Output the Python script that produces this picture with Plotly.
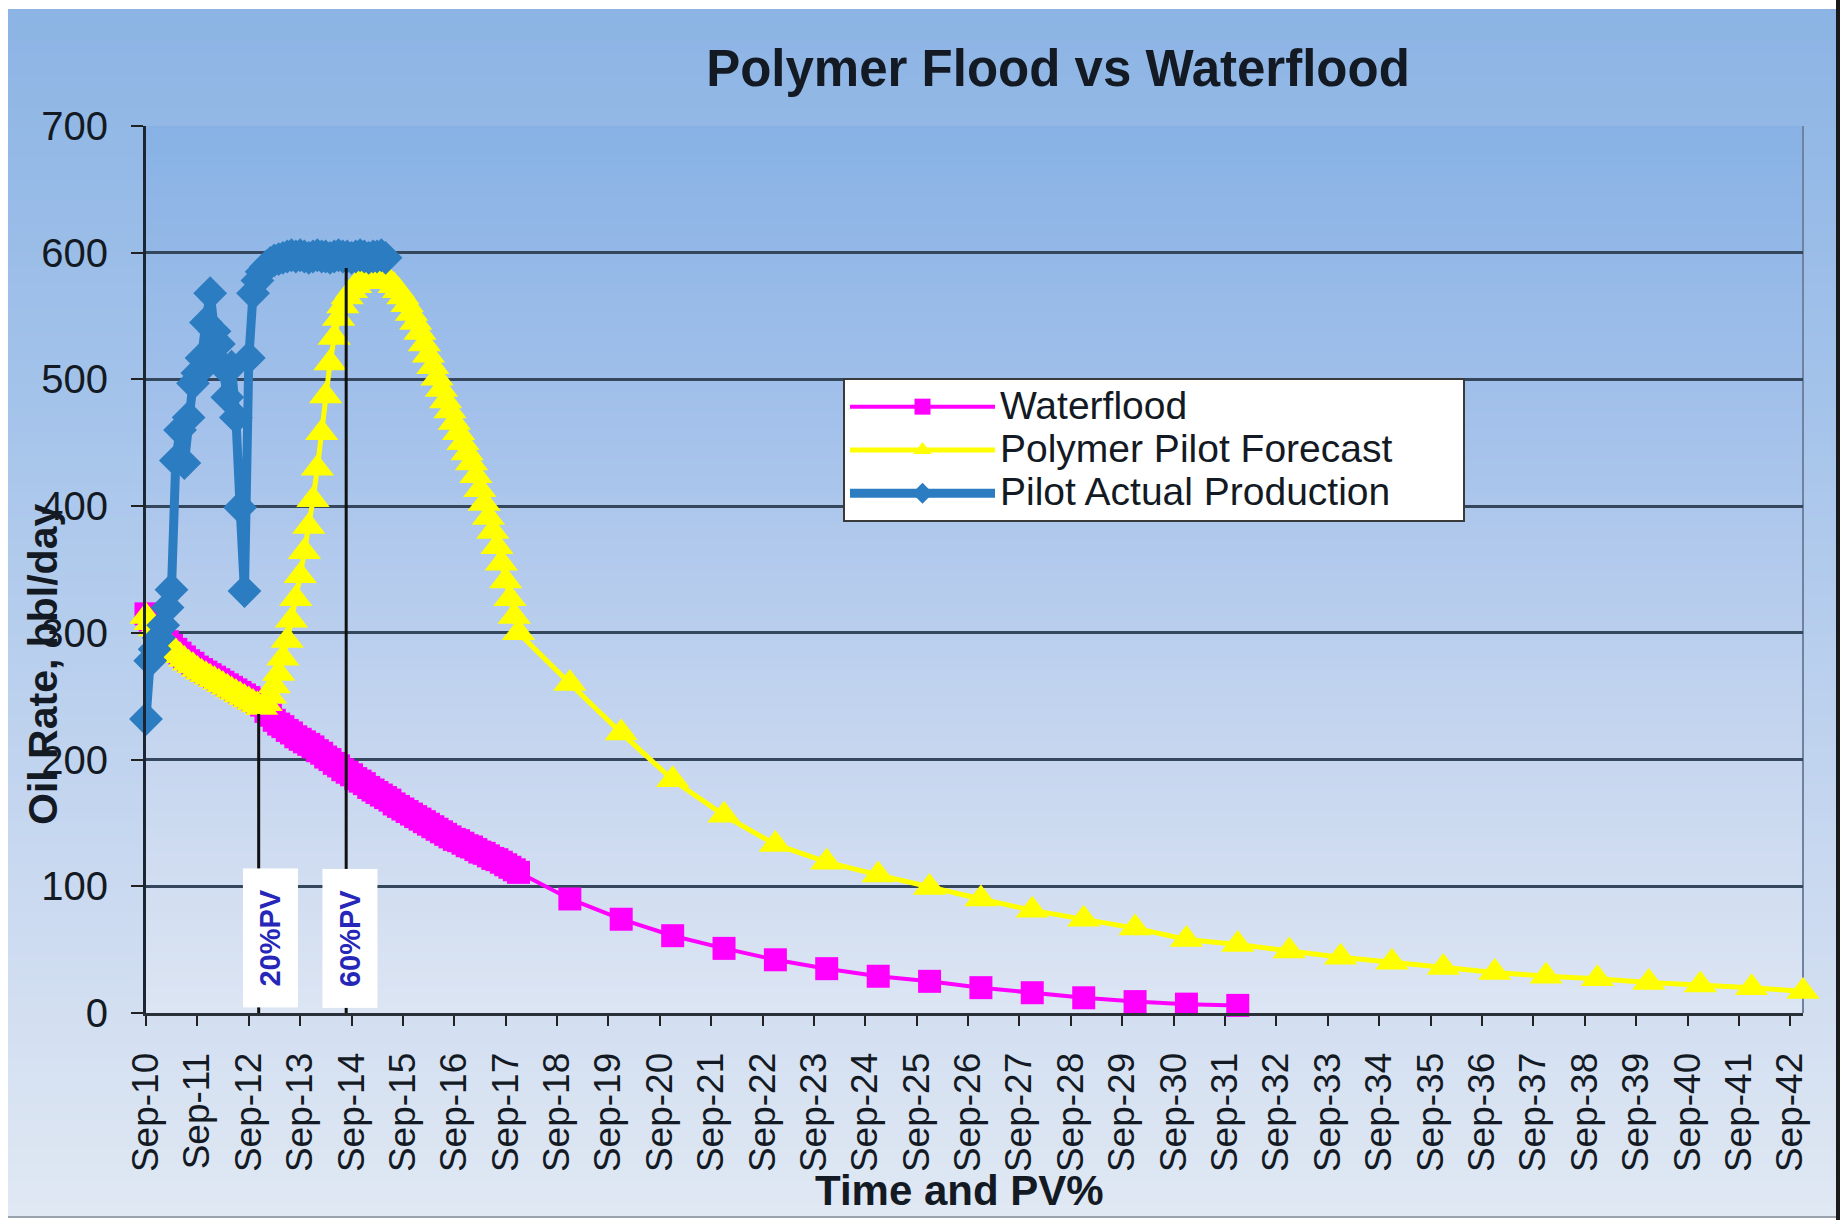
import base64
import struct
import zlib

import pandas as pd
import plotly.graph_objects as go

# ---------------------------------------------------------------- data
# Monthly forecast period: Sep-2010 .. Dec-2017 (88 months)
monthly_start = "2010-09-01"
monthly_count = 88

polymer_monthly = [
    313, 308, 303, 299, 295, 291, 288, 285, 282, 279, 276, 274, 271, 269,
    267, 265, 263, 261, 259, 257, 255, 253, 251, 249, 247, 245, 243, 241,
    244, 250, 258, 268, 280, 294, 310, 327, 345, 364, 384, 405, 430, 458,
    487, 513, 533, 548, 558, 565, 570, 574, 577, 579, 580, 581, 581, 580,
    579, 577, 574, 570, 565, 559, 552, 545, 537, 528, 519, 510, 501, 492,
    483, 475, 466, 458, 450, 442, 434, 424, 413, 402, 391, 380, 368, 355,
    341, 327, 313, 300,
]

waterflood_monthly = [
    315, 310, 305, 301, 297, 293, 290, 287, 284, 281, 278, 276, 273, 271,
    269, 267, 265, 263, 261, 259, 257, 255, 253, 251, 249, 247, 245, 243,
    238, 235, 231, 228, 226, 223, 221, 218, 216, 214, 212, 210, 207, 205,
    202, 200, 197, 195, 192, 190, 188, 185, 183, 181, 178, 176, 174, 172,
    170, 168, 165, 163, 161, 159, 157, 155, 153, 151, 149, 147, 145, 143,
    141, 139, 137, 136, 134, 132, 131, 129, 127, 126, 124, 122, 121, 119,
    117, 115, 113, 111,
]

# Yearly forecast points (December of each year)
polymer_years = list(range(2018, 2043))
polymer_yearly = [
    260, 221, 184, 156, 133, 119, 109, 99, 90, 81, 74, 67, 58,
    54, 49, 44, 40, 36, 32, 29, 27, 24, 22, 20, 17,
]
waterflood_years = list(range(2018, 2032))
waterflood_yearly = [90, 74, 61, 51, 42, 35, 29, 25, 20, 16, 12, 9, 7, 6]

# Pilot actual production, monthly from Sep-2010
pilot_start = "2010-09-01"
pilot_monthly = [
    232, 278, 287, 296, 306, 320, 334, 436, 460, 434, 470, 497, 505, 517,
    545, 568, 538, 528, 510, 486, 510, 470, 399, 333, 517, 568, 578, 585,
    589, 592, 594, 595, 596, 597, 598, 597, 598, 597, 596, 597, 598, 597,
    597, 596, 597, 598, 597, 597, 596, 597, 598, 597, 596, 597, 597, 598,
    596,
]

# Pore-volume milestones
pv_labels = ["20%PV", "60%PV"]
pv_dates = ["2012-11-10", "2014-07-25"]
pv_line_tops = [236, 588]

series_names = ["Waterflood", "Polymer Pilot Forecast", "Pilot Actual Production"]
y_ticks = [0, 100, 200, 300, 400, 500, 600, 700]

assert len(polymer_monthly) == monthly_count
assert len(waterflood_monthly) == monthly_count
assert len(polymer_yearly) == len(polymer_years)
assert len(waterflood_yearly) == len(waterflood_years)

month_dates = list(pd.date_range(monthly_start, periods=monthly_count, freq="MS"))
pilot_dates = list(pd.date_range(pilot_start, periods=len(pilot_monthly), freq="MS"))
polymer_dates = month_dates + [pd.Timestamp(f"{y}-12-01") for y in polymer_years]
waterflood_dates = month_dates + [pd.Timestamp(f"{y}-12-01") for y in waterflood_years]
polymer_values = polymer_monthly + polymer_yearly
waterflood_values = waterflood_monthly + waterflood_yearly

# ---------------------------------------------------------------- geometry
W, H = 1841, 1220
ML, MR, MT, MB = 146, 38, 126, 207
PW, PH = W - ML - MR, H - MT - MB


def paper_x(px):
    return (px - ML) / PW


def paper_y(py):
    return (H - MB - py) / PH


# ---------------------------------------------------------------- gradient fills
def gradient_png(stops, h=256, w=2):
    rows = []
    for i in range(h):
        t = i / (h - 1)
        for k in range(len(stops) - 1):
            t0, c0 = stops[k]
            t1, c1 = stops[k + 1]
            if t0 <= t <= t1:
                f = (t - t0) / (t1 - t0) if t1 > t0 else 0
                rgb = [round(c0[j] + (c1[j] - c0[j]) * f) for j in range(3)]
                break
        rows.append(b"\x00" + bytes(rgb) * w)
    raw = b"".join(rows)

    def chunk(tag, data):
        return (struct.pack(">I", len(data)) + tag + data
                + struct.pack(">I", zlib.crc32(tag + data) & 0xFFFFFFFF))

    png = (b"\x89PNG\r\n\x1a\n"
           + chunk(b"IHDR", struct.pack(">IIBBBBB", w, h, 8, 2, 0, 0, 0))
           + chunk(b"IDAT", zlib.compress(raw, 9))
           + chunk(b"IEND", b""))
    return "data:image/png;base64," + base64.b64encode(png).decode()


outer_fill = gradient_png([
    (0.0, (140, 180, 228)),
    (0.3, (162, 194, 234)),
    (0.7, (200, 216, 240)),
    (1.0, (224, 232, 243)),
])
plot_fill = gradient_png([
    (0.0, (136, 178, 229)),
    (0.35, (165, 194, 235)),
    (0.7, (198, 214, 239)),
    (1.0, (220, 229, 243)),
])

FONT = "Liberation Sans, Arial, sans-serif"
INK = "#141a24"


def legend_label(name):
    # legend rows are spaced by the (smaller) legend font; the label itself is
    # larger, with a little trailing room so the box reaches its full width
    return f'<span style="font-size:39px">{name}' + "&nbsp;" * 6 + "</span>"


# ---------------------------------------------------------------- traces
fig = go.Figure()
fig.add_trace(go.Scatter(
    x=waterflood_dates, y=waterflood_values, name=legend_label(series_names[0]),
    mode="lines+markers", cliponaxis=False,
    line=dict(color="#FF00FF", width=4),
    marker=dict(symbol="square", size=23, color="#FF00FF"),
))
fig.add_trace(go.Scatter(
    x=polymer_dates, y=polymer_values, name=legend_label(series_names[1]),
    mode="lines+markers", cliponaxis=False,
    line=dict(color="#FFFF00", width=5),
    marker=dict(symbol="triangle-up", size=29, color="#FFFF00"),
))
fig.add_trace(go.Scatter(
    x=pilot_dates, y=pilot_monthly, name=legend_label(series_names[2]),
    mode="lines+markers", cliponaxis=False,
    line=dict(color="#2B7CC0", width=9),
    marker=dict(symbol="diamond", size=26, color="#2B7CC0"),
))

# ---------------------------------------------------------------- shapes
shapes = []
for d, top in zip(pv_dates, pv_line_tops):
    shapes.append(dict(type="line", xref="x", yref="y", x0=d, x1=d, y0=0, y1=top,
                       line=dict(color="#111111", width=3), layer="above"))
# plot-area right edge
shapes.append(dict(type="line", xref="paper", yref="paper", x0=1, x1=1, y0=0, y1=1,
                   line=dict(color="#6f82a0", width=2), layer="below"))
# outer frame edges
shapes.append(dict(type="line", xref="paper", yref="paper",
                   x0=paper_x(1838), x1=paper_x(1838), y0=paper_y(0), y1=paper_y(H),
                   line=dict(color="#1a1a1a", width=4), layer="above"))
shapes.append(dict(type="line", xref="paper", yref="paper",
                   x0=paper_x(8), x1=paper_x(1836), y0=paper_y(1217), y1=paper_y(1217),
                   line=dict(color="#9aa3ad", width=2), layer="above"))

# ---------------------------------------------------------------- annotations
annotations = [
    dict(text="<b>Oil Rate, bbl/day</b>", xref="paper", yref="paper",
         x=paper_x(43), y=paper_y(665), textangle=-90, showarrow=False,
         xanchor="center", yanchor="middle",
         font=dict(family=FONT, size=41, color=INK)),
    dict(text="<b>Time and PV%</b>", xref="paper", yref="paper",
         x=paper_x(959), y=paper_y(1190), showarrow=False,
         xanchor="center", yanchor="middle",
         font=dict(family=FONT, size=42, color=INK)),
]
pv_shift = [12, 4]
for lbl, d, sh in zip(pv_labels, pv_dates, pv_shift):
    annotations.append(dict(
        text=f"<b>{lbl}</b>", xref="x", yref="y", x=d, y=59, xshift=sh,
        textangle=-90, showarrow=False, xanchor="center", yanchor="middle",
        bgcolor="white", borderpad=8, width=122, height=38,
        font=dict(family=FONT, size=29, color="#2626B8"),
    ))

# ---------------------------------------------------------------- layout
fig.update_layout(
    width=W, height=H,
    margin=dict(l=ML, r=MR, t=MT, b=MB, pad=0),
    paper_bgcolor="white",
    plot_bgcolor="rgba(0,0,0,0)",
    font=dict(family=FONT, color=INK),
    title=dict(text="Polymer Flood vs Waterflood", x=1058 / W, y=1 - 68 / H,
               xanchor="center", yanchor="middle", xref="container", yref="container",
               font=dict(family=FONT, size=51, color=INK, weight="bold")),
    images=[
        dict(source=outer_fill, xref="paper", yref="paper",
             x=paper_x(8), y=paper_y(9), sizex=(1836 - 8) / PW, sizey=(1216 - 9) / PH,
             xanchor="left", yanchor="top", sizing="stretch", layer="below"),
        dict(source=plot_fill, xref="paper", yref="paper",
             x=0, y=1, sizex=1, sizey=1,
             xanchor="left", yanchor="top", sizing="stretch", layer="below"),
    ],
    shapes=shapes,
    annotations=annotations,
    showlegend=True,
    legend=dict(x=paper_x(843), y=paper_y(378), xanchor="left", yanchor="top",
                bgcolor="white", bordercolor="#3a3a3a", borderwidth=2,
                font=dict(family=FONT, size=31, color=INK),
                itemwidth=145, tracegroupgap=0),
    xaxis=dict(
        type="date", range=["2010-09-01", "2042-12-01"],
        tick0="2010-09-01", dtick="M12", tickformat="%b-%y",
        tickangle=-90, ticks="outside", ticklen=10, tickwidth=2, tickcolor="#222",
        ticklabelstandoff=12,
        tickfont=dict(family=FONT, size=37, color=INK),
        showline=True, linecolor="#2a2f38", linewidth=3,
        showgrid=False, zeroline=False,
    ),
    yaxis=dict(
        range=[0, 700], tickvals=y_ticks,
        ticks="outside", ticklen=12, tickwidth=2, tickcolor="#222",
        ticklabelstandoff=15,
        tickfont=dict(family=FONT, size=40, color=INK),
        showline=True, linecolor="#1c2633", linewidth=3,
        showgrid=True, gridcolor="#34475c", gridwidth=2.5,
        zeroline=False,
    ),
)

fig.write_html("out.html")
